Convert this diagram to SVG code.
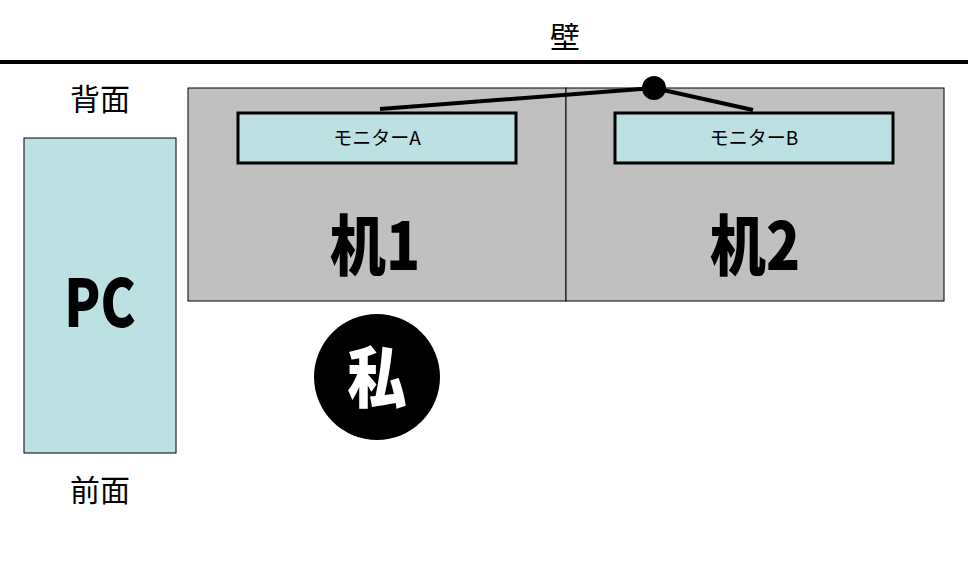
<svg xmlns="http://www.w3.org/2000/svg" width="968" height="575" viewBox="0 0 968 575">
<style>
.lbl{font-family:"Noto Sans CJK JP","Noto Sans",sans-serif;font-size:30px;text-anchor:middle}
.big{font-family:"Noto Sans CJK JP","Liberation Sans",sans-serif;font-weight:900;font-size:66px;text-anchor:middle}
.mon{fill:#bde0e3;stroke:#000;stroke-width:3}
.mt{font-family:"Noto Sans CJK JP","Liberation Sans",sans-serif;font-size:19px;text-anchor:middle}
.desk{fill:#c0c0c0;stroke:#000;stroke-width:1}
</style>
<rect width="968" height="575" fill="#fff"/>
<line x1="0" y1="62" x2="968" y2="62" stroke="#000" stroke-width="4"/>
<text class="lbl" x="565" y="48">壁</text>
<text class="lbl" x="100" y="110">背面</text>
<text class="lbl" x="100" y="501">前面</text>
<g id="pc"><rect x="24" y="138" width="152" height="315" fill="#bde0e3" stroke="#000" stroke-width="1"/>
<text class="big" transform="translate(100,327) scale(0.8,1)" x="0" y="0">PC</text></g>
<g id="desk1"><rect class="desk" x="188" y="88" width="378" height="213"/>
<text class="big" transform="translate(375,270) scale(0.85,1)">机1</text></g>
<g id="desk2"><rect class="desk" x="566" y="88" width="378" height="213"/>
<text class="big" transform="translate(755,270) scale(0.85,1)">机2</text></g>
<g id="monA"><rect class="mon" x="238" y="113" width="278" height="50"/><text class="mt" x="377" y="145">モニターA</text></g>
<g id="monB"><rect class="mon" x="615" y="113" width="278" height="50"/><text class="mt" x="754" y="145">モニターB</text></g>
<g id="connectors" stroke="#000" stroke-width="4">
<line x1="654" y1="88" x2="380" y2="109"/>
<line x1="654" y1="88" x2="753" y2="110"/>
<circle cx="654" cy="88" r="12" fill="#000" stroke="none"/>
</g>
<g id="me"><circle cx="377" cy="377" r="63" fill="#000"/>
<text class="big" x="377" y="402" fill="#fff" font-size="62" transform="translate(377,0) scale(0.9,1) translate(-377,0)">私</text></g>
</svg>
